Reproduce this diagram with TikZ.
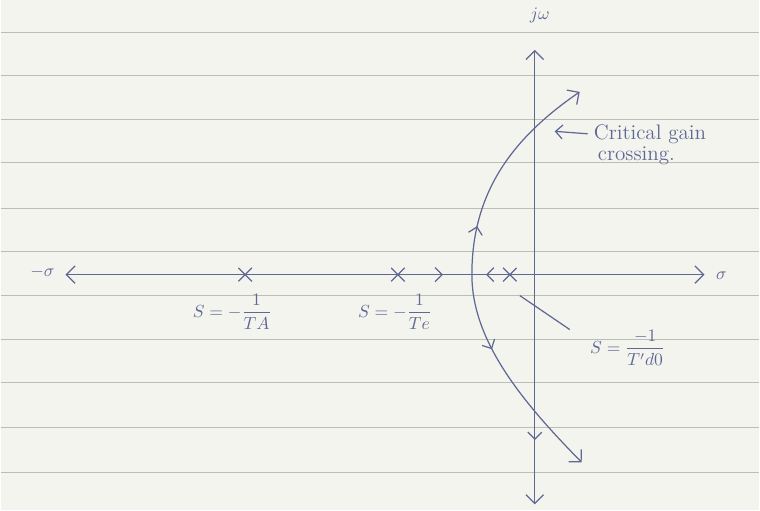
\documentclass[tikz,border=0pt]{standalone}
\usepackage{xcolor}
\usepackage{amsmath}
\usepackage{tikz}
\usetikzlibrary{shapes.misc,decorations.markings,arrows.meta}
\definecolor{paperBg}{HTML}{F4F4EF}
\definecolor{paperRule}{HTML}{BDBDB8}
\definecolor{inkBlue}{HTML}{5F6893}

\begin{document}
\begin{tikzpicture}[x=0.02cm,y=-0.02cm]

            \tikzset{
                inkline/.style={
                    draw=inkBlue,
                    line width=0.7pt
                },
                axisline/.style={inkline, -{Straight Barb[length=5pt]}},
                polemark/.style={cross out, draw=inkBlue, line width=0.7pt,
                    minimum size=7pt, inner sep=0pt},
                inklabel/.style={text=inkBlue, font=\normalsize},
                midarrow/.style={postaction={decorate},
                    decoration={markings,
                        mark=at position #1 with {\arrow{Straight Barb[length=4pt]}}}}
            }

            % ruled paper
            \fill[paperBg] (0,0) rectangle (760,511);
            \foreach \ry in {33,76,120,163,209,252,296,340,383,428,473}
                \draw[paperRule, line width=0.6pt] (0,\ry) -- (760,\ry);

            % axes
            \coordinate (orig) at (535,275);
            \coordinate (reL) at (65,275);
            \coordinate (reR) at (705,275);
            \coordinate (imT) at (535,50);
            \coordinate (imB) at (535,505);
            \draw[axisline] (orig) -- (reR);
            \draw[axisline] (orig) -- (reL);
            \draw[axisline] (orig) -- (imT);
            \draw[axisline, midarrow=0.72] (orig) -- (imB);

            \node[inklabel] (jw) at (540,15) {$j\omega$};
            \node[inklabel] (nsig) at (42,272) {$-\sigma$};
            \node[inklabel] (psig) at (722,276) {$\sigma$};

            % poles
            \node[polemark] (poleA) at (245,275) {};
            \node[polemark] (poleE) at (398,275) {};
            \node[polemark] (poleD) at (510,275) {};
            \coordinate (brk) at (472,275);
            \coordinate (cgc) at (535,130);

            \draw[inkline, midarrow=0.57] (poleE) -- (brk);
            \draw[inkline, midarrow=0.55] (poleD) -- (brk);

            % root locus branches
            \draw[inkline, -{Straight Barb[length=5pt]}, midarrow=0.22]
                (brk) .. controls (472,195) and (510,140) .. (580,92);
            \draw[inkline, -{Straight Barb[length=5pt]}, midarrow=0.35]
                (brk) .. controls (472,340) and (520,400) .. (582,463);

            % labels
            \node[inklabel] (labA) at (232,312) {$S = -\dfrac{1}{TA}$};
            \node[inklabel] (labE) at (395,312) {$S = -\dfrac{1}{Te}$};
            \node[inklabel] (labD) at (628,348) {$S = \dfrac{-1}{T'd0}$};
            \coordinate (ldS) at (520,296);
            \coordinate (ldE) at (570,330);
            \draw[inkline] (ldS) -- (ldE);

            \node[inklabel, font=\large, anchor=west] (cgA) at (588,134) {Critical gain};
            \node[inklabel, font=\large, anchor=west] (cgB) at (592,156) {crossing.};
            \draw[inkline, -{Straight Barb[length=4pt]}, shorten >=0.4cm] (cgA.west) -- (cgc);

        \end{tikzpicture}
\end{document}
